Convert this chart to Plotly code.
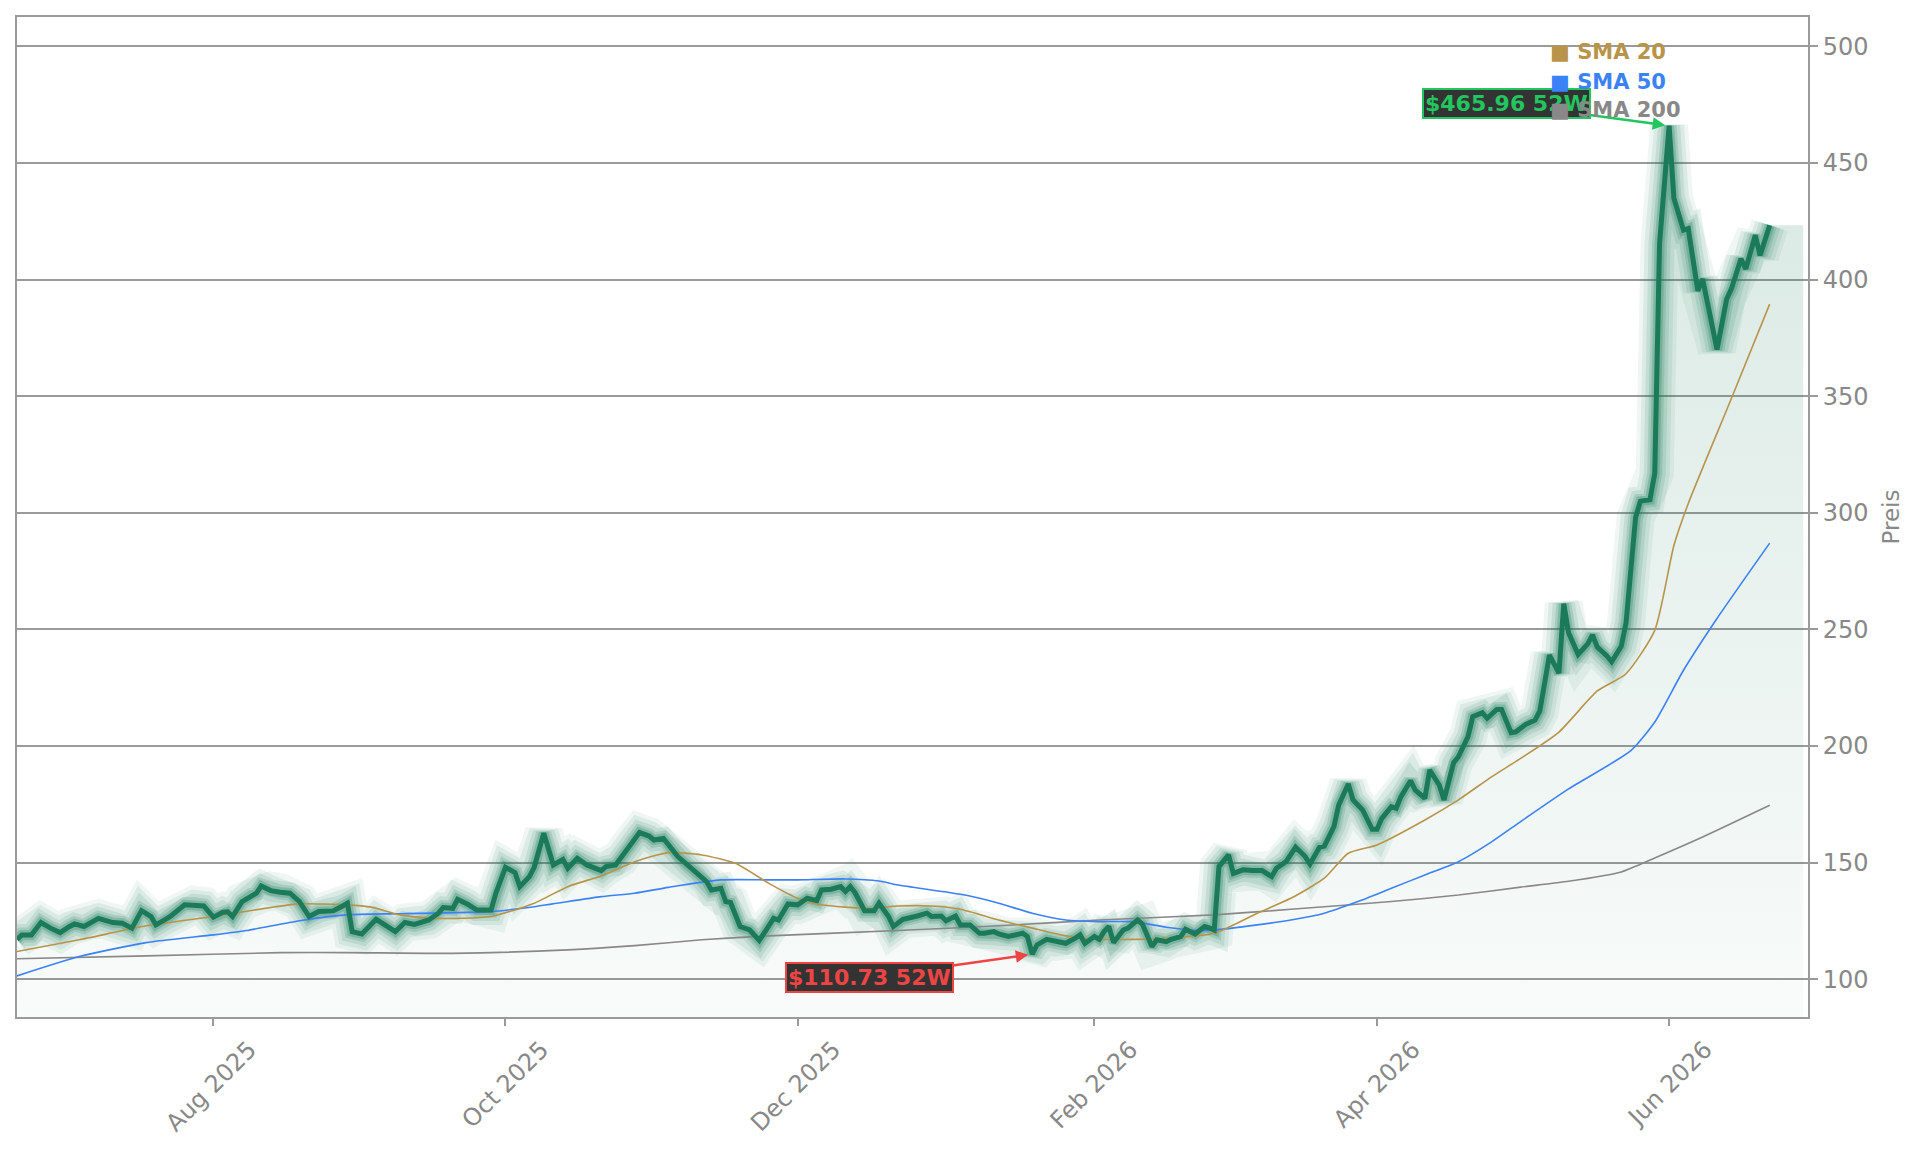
import plotly.graph_objects as go
import pandas as pd

# ---------------- data ----------------
price_dates = [
    "2025-06-21", "2025-06-22", "2025-06-24", "2025-06-26", "2025-06-28", "2025-06-30",
    "2025-07-02", "2025-07-03", "2025-07-05", "2025-07-08", "2025-07-11", "2025-07-13",
    "2025-07-15", "2025-07-17", "2025-07-19", "2025-07-20", "2025-07-22", "2025-07-23",
    "2025-07-26", "2025-07-28", "2025-07-30", "2025-08-01", "2025-08-03", "2025-08-04",
    "2025-08-05", "2025-08-07", "2025-08-09", "2025-08-10", "2025-08-11", "2025-08-13",
    "2025-08-15", "2025-08-17", "2025-08-19", "2025-08-21", "2025-08-23", "2025-08-26",
    "2025-08-28", "2025-08-29", "2025-08-30", "2025-09-01", "2025-09-04", "2025-09-06",
    "2025-09-08", "2025-09-10", "2025-09-12", "2025-09-15", "2025-09-17", "2025-09-18",
    "2025-09-20", "2025-09-21", "2025-09-23", "2025-09-25", "2025-09-28", "2025-09-29",
    "2025-10-01", "2025-10-03", "2025-10-04", "2025-10-06", "2025-10-07", "2025-10-09",
    "2025-10-10", "2025-10-11", "2025-10-13", "2025-10-14", "2025-10-16", "2025-10-18",
    "2025-10-21", "2025-10-22", "2025-10-24", "2025-10-25", "2025-10-27", "2025-10-29",
    "2025-10-31", "2025-11-01", "2025-11-03", "2025-11-04", "2025-11-06", "2025-11-08",
    "2025-11-10", "2025-11-12", "2025-11-13", "2025-11-15", "2025-11-16", "2025-11-17",
    "2025-11-19", "2025-11-21", "2025-11-23", "2025-11-25", "2025-11-26", "2025-11-27",
    "2025-11-29", "2025-12-01", "2025-12-03", "2025-12-05", "2025-12-06", "2025-12-08",
    "2025-12-10", "2025-12-11", "2025-12-12", "2025-12-13", "2025-12-15", "2025-12-17",
    "2025-12-18", "2025-12-20", "2025-12-21", "2025-12-23", "2025-12-25", "2025-12-26",
    "2025-12-28", "2025-12-29", "2025-12-31", "2026-01-01", "2026-01-03", "2026-01-04",
    "2026-01-06", "2026-01-08", "2026-01-09", "2026-01-11", "2026-01-12", "2026-01-14",
    "2026-01-17", "2026-01-18", "2026-01-19", "2026-01-20", "2026-01-22", "2026-01-24",
    "2026-01-26", "2026-01-28", "2026-01-29", "2026-01-30", "2026-02-01", "2026-02-02",
    "2026-02-03", "2026-02-04", "2026-02-05", "2026-02-07", "2026-02-08", "2026-02-10",
    "2026-02-11", "2026-02-13", "2026-02-14", "2026-02-16", "2026-02-17", "2026-02-19",
    "2026-02-20", "2026-02-22", "2026-02-24", "2026-02-25", "2026-02-26", "2026-02-27",
    "2026-03-01", "2026-03-02", "2026-03-04", "2026-03-06", "2026-03-08", "2026-03-10",
    "2026-03-11", "2026-03-13", "2026-03-15", "2026-03-17", "2026-03-18", "2026-03-20",
    "2026-03-21", "2026-03-23", "2026-03-24", "2026-03-26", "2026-03-27", "2026-03-29",
    "2026-03-31", "2026-04-01", "2026-04-02", "2026-04-04", "2026-04-05", "2026-04-06",
    "2026-04-08", "2026-04-09", "2026-04-11", "2026-04-12", "2026-04-14", "2026-04-15",
    "2026-04-17", "2026-04-18", "2026-04-20", "2026-04-21", "2026-04-23", "2026-04-24",
    "2026-04-26", "2026-04-27", "2026-04-29", "2026-04-30", "2026-05-02", "2026-05-04",
    "2026-05-05", "2026-05-07", "2026-05-09", "2026-05-10", "2026-05-11", "2026-05-13",
    "2026-05-15", "2026-05-16", "2026-05-17", "2026-05-19", "2026-05-20", "2026-05-22",
    "2026-05-23", "2026-05-25", "2026-05-26", "2026-05-28", "2026-05-29", "2026-05-30",
    "2026-06-01", "2026-06-02", "2026-06-04", "2026-06-05", "2026-06-07", "2026-06-08",
    "2026-06-11", "2026-06-13", "2026-06-14", "2026-06-16", "2026-06-17", "2026-06-19",
    "2026-06-20", "2026-06-22",
]
price_values = [
    117.0, 119.0, 119.0, 124.3, 121.9, 120.0,
    122.6, 123.7, 122.6, 126.1, 124.3, 124.0,
    121.9, 129.4, 126.9, 123.3, 125.7, 126.9,
    131.9, 131.9, 131.4, 126.6, 128.7, 128.9,
    126.9, 133.3, 136.1, 136.9, 140.0, 138.0,
    137.3, 136.9, 133.3, 126.9, 129.0, 129.3,
    131.4, 132.6, 120.4, 119.4, 125.7, 123.3,
    120.4, 124.3, 123.5, 125.4, 128.3, 130.7,
    130.4, 134.3, 132.3, 129.7, 129.7, 136.9,
    148.0, 145.7, 139.7, 144.0, 148.0, 162.6,
    155.4, 149.0, 151.4, 147.6, 151.9, 149.0,
    146.6, 148.3, 149.0, 151.9, 157.6, 162.9,
    161.4, 159.7, 160.4, 157.6, 152.6, 149.0,
    145.4, 141.9, 138.3, 139.0, 133.3, 132.9,
    122.6, 121.1, 116.6, 122.6, 126.1, 125.4,
    132.3, 131.9, 134.7, 133.7, 138.3, 138.6,
    139.7, 137.6, 139.7, 137.1, 129.4, 129.4,
    132.6, 126.9, 122.6, 125.7, 126.4, 127.1,
    128.3, 126.9, 127.1, 125.1, 127.1, 123.3,
    123.3, 119.7, 119.7, 120.4, 119.4, 118.3,
    119.7, 118.3, 110.73, 114.7, 117.1, 116.1,
    115.4, 117.6, 119.0, 115.4, 118.3, 117.1,
    120.4, 122.6, 115.7, 121.1, 121.9, 125.4,
    123.7, 114.0, 116.9, 116.1, 117.1, 118.3,
    121.4, 119.4, 122.6, 122.0, 121.1, 148.3,
    153.3, 145.4, 146.9, 146.6, 146.6, 144.0,
    147.6, 150.4, 156.6, 152.6, 149.4, 156.6,
    157.1, 165.4, 174.7, 183.7, 176.9, 172.6,
    164.3, 164.3, 169.0, 174.0, 173.3, 178.3,
    185.1, 181.1, 177.6, 189.7, 183.3, 176.9,
    192.9, 195.4, 204.0, 212.6, 214.3, 211.9,
    215.7, 215.7, 205.7, 206.1, 209.2, 211.1,
    215.0, 239.0, 231.3, 261.0, 248.6, 239.3,
    243.8, 247.6, 242.4, 238.6, 236.1, 242.8,
    252.8, 298.0, 305.0, 305.6, 317.0, 415.5,
    465.96, 434.9, 421.2, 421.9, 395.2, 400.3,
    370.0, 391.6, 396.0, 408.9, 404.6, 419.0,
    410.4, 423.3,
]

sma20_dates = [
    "2025-06-21", "2025-07-04", "2025-07-18", "2025-08-01", "2025-08-14", "2025-08-19",
    "2025-08-29", "2025-09-03", "2025-09-09", "2025-09-16", "2025-09-28", "2025-10-07",
    "2025-10-14", "2025-10-21", "2025-10-28", "2025-11-04", "2025-11-11", "2025-11-18",
    "2025-11-25", "2025-12-01", "2025-12-06", "2025-12-16", "2025-12-22", "2025-12-29",
    "2026-01-04", "2026-01-12", "2026-01-19", "2026-01-26", "2026-02-02", "2026-02-09",
    "2026-02-16", "2026-02-26", "2026-03-07", "2026-03-14", "2026-03-21", "2026-03-26",
    "2026-04-01", "2026-04-11", "2026-04-18", "2026-04-25", "2026-05-01", "2026-05-09",
    "2026-05-17", "2026-05-23", "2026-05-29", "2026-06-02", "2026-06-05", "2026-06-14",
    "2026-06-22",
]
sma20_values = [
    111.9, 116.9, 122.9, 126.9, 131.1, 132.3,
    131.9, 130.9, 127.6, 126.1, 126.9, 132.6,
    139.7, 144.3, 150.4, 154.3, 153.3, 149.7,
    141.1, 134.7, 131.9, 130.4, 131.4, 131.4,
    130.0, 125.4, 121.9, 118.6, 117.1, 117.1,
    117.6, 119.7, 128.3, 134.7, 143.3, 154.0,
    157.6, 168.3, 176.9, 186.9, 194.7, 206.0,
    223.6, 231.0, 249.6, 286.0, 304.0, 349.0,
    389.5,
]

sma50_dates = [
    "2025-06-21", "2025-07-04", "2025-07-18", "2025-08-01", "2025-08-08", "2025-08-19",
    "2025-08-29", "2025-09-09", "2025-09-28", "2025-10-07", "2025-10-21", "2025-10-28",
    "2025-11-04", "2025-11-15", "2025-11-25", "2025-12-01", "2025-12-11", "2025-12-18",
    "2025-12-22", "2026-01-05", "2026-01-12", "2026-01-19", "2026-01-26", "2026-02-02",
    "2026-02-09", "2026-02-16", "2026-02-23", "2026-02-26", "2026-03-07", "2026-03-14",
    "2026-03-21", "2026-03-28", "2026-04-04", "2026-04-11", "2026-04-18", "2026-04-25",
    "2026-05-01", "2026-05-11", "2026-05-24", "2026-05-29", "2026-06-04", "2026-06-11",
    "2026-06-22",
]
sma50_values = [
    101.4, 109.7, 115.7, 119.0, 120.9, 125.1,
    127.6, 128.1, 129.0, 131.1, 135.4, 136.9,
    139.4, 142.6, 142.6, 142.6, 143.0, 142.1,
    140.4, 136.1, 132.6, 128.3, 125.4, 124.7,
    124.7, 122.3, 120.9, 121.1, 123.3, 125.4,
    128.3, 133.3, 139.0, 144.7, 150.4, 159.0,
    167.6, 181.6, 198.0, 210.3, 232.5, 254.7,
    287.0,
]

sma200_dates = [
    "2025-06-21", "2025-07-18", "2025-08-15", "2025-08-29", "2025-09-20", "2025-10-14",
    "2025-10-28", "2025-11-11", "2025-11-25", "2025-12-22", "2026-01-12", "2026-02-02",
    "2026-02-26", "2026-03-14", "2026-04-04", "2026-04-18", "2026-05-01", "2026-05-11",
    "2026-05-22", "2026-05-29", "2026-06-08", "2026-06-22",
]
sma200_values = [
    108.8, 110.0, 111.4, 111.4, 111.1, 112.6,
    114.4, 116.9, 118.6, 120.9, 122.9, 125.4,
    127.6, 130.0, 133.3, 136.1, 139.5, 142.0,
    146.0, 152.0, 161.0, 174.6,
]

legend_names = ["SMA 20", "SMA 50", "SMA 200"]
high_label = "$465.96 52W"
low_label = "$110.73 52W"

# ---------------- styling ----------------
C_PRICE = "#1a7a5a"
C_SMA20 = "#b8944a"
C_SMA50 = "#3b82f6"
C_SMA200 = "#888888"
C_GREEN = "#22c55e"
C_RED = "#ef4444"
GRID = "#9a9a9a"
TXT = "#888888"
FONT = "DejaVu Sans"

fig = go.Figure()

# area fill under the price with a vertical gradient (extends a little past the last point)
last_ts = pd.Timestamp(price_dates[-1])
fill_x = price_dates + [(last_ts + pd.Timedelta(days=7)).strftime("%Y-%m-%d")]
fill_y = price_values + [price_values[-1]]
fig.add_trace(go.Scatter(
    x=fill_x, y=fill_y, mode="lines",
    line=dict(width=0, color="rgba(0,0,0,0)"),
    fill="tozeroy",
    fillgradient=dict(type="vertical",
                      colorscale=[[0, "rgba(26,122,90,0.0)"], [1, "rgba(26,122,90,0.17)"]]),
    showlegend=False, hoverinfo="skip",
))

# glow layers under the price line
for w, a in [(38, 0.07), (30, 0.09), (22, 0.12), (15, 0.17), (10, 0.26)]:
    fig.add_trace(go.Scatter(
        x=price_dates, y=price_values, mode="lines",
        line=dict(width=w, color=f"rgba(26,122,90,{a})"),
        showlegend=False, hoverinfo="skip",
    ))

# moving averages
for dts, vals, col in [(sma200_dates, sma200_values, C_SMA200),
                       (sma50_dates, sma50_values, C_SMA50),
                       (sma20_dates, sma20_values, C_SMA20)]:
    fig.add_trace(go.Scatter(
        x=dts, y=vals, mode="lines",
        line=dict(width=1.6, color=col, shape="spline", smoothing=0.6),
        showlegend=False, hoverinfo="skip",
    ))

# main price line
fig.add_trace(go.Scatter(
    x=price_dates, y=price_values, mode="lines",
    line=dict(width=5, color=C_PRICE),
    showlegend=False, name="Preis",
))

# 52W high / low annotations
hi_i = price_values.index(max(price_values))
lo_i = price_values.index(min(price_values))
fig.add_annotation(
    x=price_dates[hi_i], y=price_values[hi_i], text=f"<b>{high_label}</b>",
    showarrow=True, arrowhead=2, arrowsize=1, arrowwidth=2.5, arrowcolor=C_GREEN,
    ax=-163, ay=-22, standoff=4,
    font=dict(family=FONT, size=22, color=C_GREEN),
    bgcolor="#333333", bordercolor=C_GREEN, borderwidth=2, borderpad=1,
)
fig.add_annotation(
    x=price_dates[lo_i], y=price_values[lo_i], text=f"<b>{low_label}</b>",
    showarrow=True, arrowhead=2, arrowsize=1, arrowwidth=2.5, arrowcolor=C_RED,
    ax=-163, ay=23, standoff=4,
    font=dict(family=FONT, size=22, color=C_RED),
    bgcolor="#333333", bordercolor=C_RED, borderwidth=2, borderpad=1,
)

# legend drawn as text entries (on top of the high label, as in the reference)
for name, col, yy in zip(legend_names, [C_SMA20, C_SMA50, C_SMA200], [0.9647, 0.9353, 0.907]):
    fig.add_annotation(
        xref="paper", yref="paper", x=0.8548, y=yy, xanchor="left", yanchor="middle",
        text=f"<b>■ {name}</b>", showarrow=False,
        font=dict(family=FONT, size=21, color=col),
    )

fig.update_layout(
    width=1921, height=1151,
    margin=dict(l=17, r=113, t=17, b=134),
    paper_bgcolor="white", plot_bgcolor="white",
    font=dict(family=FONT, size=24, color=TXT),
    showlegend=False,
    xaxis=dict(
        type="date", range=["2025-06-21", "2026-06-30"],
        tickformat="%b %Y", dtick="M2", tick0="2025-08-01", tickangle=-45,
        ticklabelshift=36,
        ticks="outside", ticklen=7, tickwidth=2, tickcolor=GRID,
        showgrid=False, zeroline=False,
        showline=True, linecolor=GRID, linewidth=2, mirror=True,
        tickfont=dict(family=FONT, size=24, color=TXT),
    ),
    yaxis=dict(
        side="right", range=[83.8, 512.6], dtick=50, tick0=0,
        ticks="outside", ticklen=8, tickwidth=2, tickcolor=GRID,
        showgrid=True, gridcolor=GRID, gridwidth=1.5, zeroline=False,
        showline=True, linecolor=GRID, linewidth=2, mirror=True,
        tickfont=dict(family=FONT, size=24, color=TXT),
        title=dict(text="Preis", font=dict(family=FONT, size=23, color=TXT)),
    ),
    hovermode=False,
)

fig.write_html("out.html")
